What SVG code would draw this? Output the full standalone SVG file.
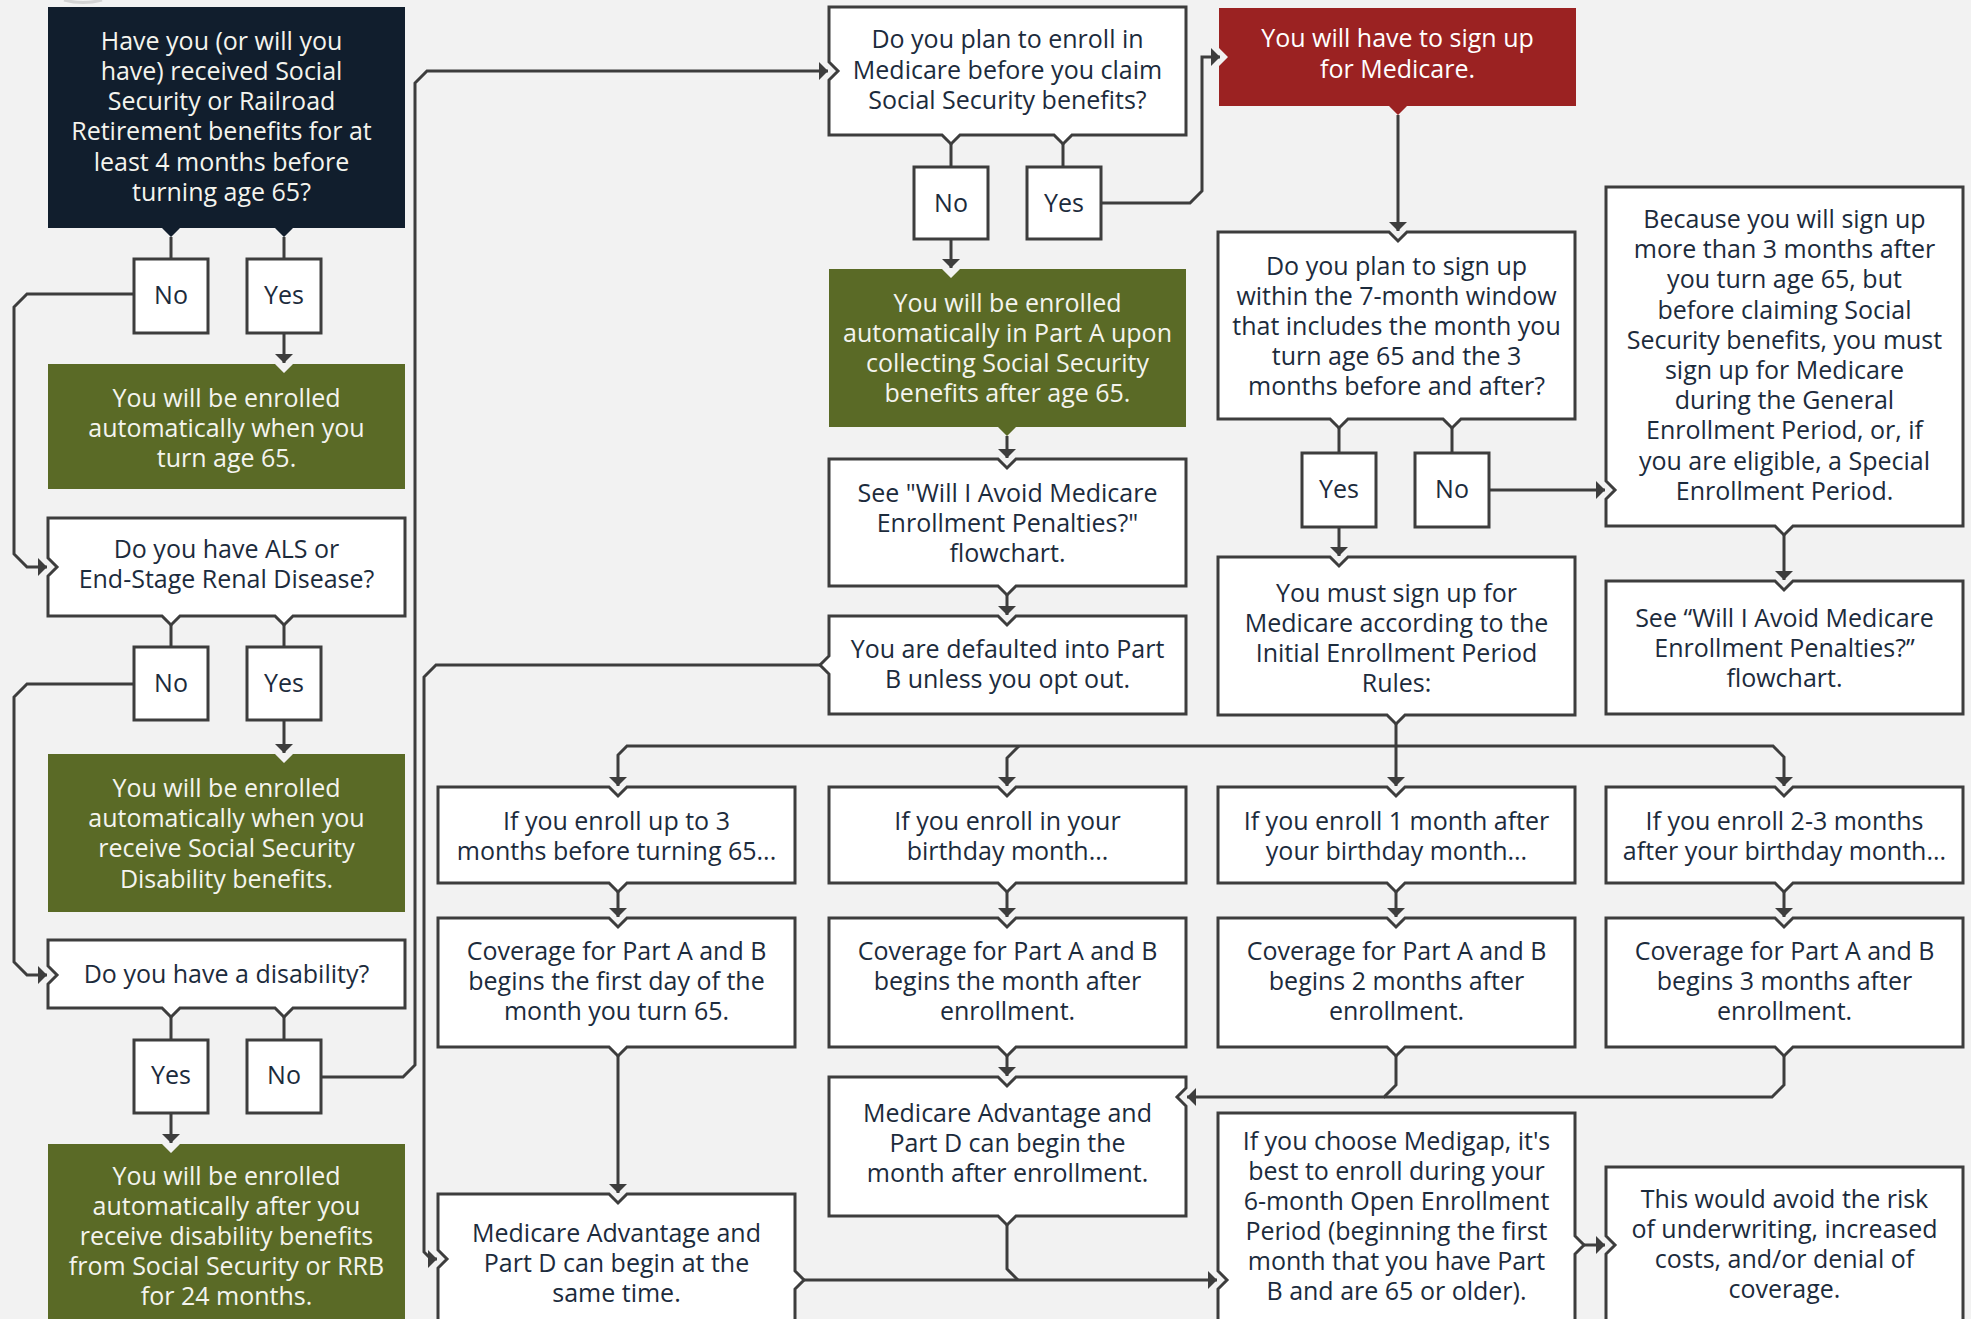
<svg xmlns="http://www.w3.org/2000/svg" width="1971" height="1319" viewBox="0 0 1971 1319">
<defs>
<marker id="ah" markerUnits="userSpaceOnUse" markerWidth="10" markerHeight="20" refX="9" refY="9" orient="auto" viewBox="0 0 10 18"><path d="M0,0 L9,9 L0,18 z" fill="#3d3d3d"/></marker>
</defs>
<style>
.bg{fill:#f2f2f2}
.w{fill:#fff;stroke:#3d3d3d;stroke-width:3}
.g{fill:#5a6a26}
.n{fill:#111e2d}
.r{fill:#9b2222}
text{font-family:"Open Sans","Noto Sans","Liberation Sans",sans-serif;font-size:25px;text-anchor:middle;fill:#1c2b3c}
.lt{fill:#f4f4ee}
.c path{fill:none;stroke:#3d3d3d;stroke-width:3}
.c path.a{marker-end:url(#ah)}
</style>
<rect class="bg" x="0" y="0" width="1971" height="1319"/>
<path d="M64 0Q83 5 102 0" fill="none" stroke="#d4d4d4" stroke-width="3"/>

<g class="c" id="connectors">
<path d="M171 237V259M284 237V259"/>
<path class="a" d="M284 333V363"/>
<path class="a" d="M134 294H27L14 307V554L27 567H47"/>
<path d="M171 625V647M284 625V647"/>
<path class="a" d="M284 720V753"/>
<path class="a" d="M134 684H27L14 697V962L27 975H47"/>
<path d="M171 1017V1040M284 1017V1040"/>
<path class="a" d="M171 1113V1143"/>
<path class="a" d="M321 1077H403L415 1065V83L427 71H828"/>
<path d="M951 144V167M1063 144V167"/>
<path class="a" d="M951 239V268"/>
<path class="a" d="M1101 203H1190L1202 191V57H1220"/>
<path class="a" d="M1007 436V458"/>
<path class="a" d="M1007 595V615"/>
<path class="a" d="M820 665H436L424 677V1252L431 1259H437"/>
<path class="a" d="M1398 115V231"/>
<path d="M1339 428V453M1452 428V453"/>
<path class="a" d="M1339 527V556"/>
<path class="a" d="M1489 490H1605"/>
<path class="a" d="M1784 535V580"/>
<path class="a" d="M1396 724V786"/>
<path class="a" d="M1396 746H627L618 755V786"/>
<path class="a" d="M1396 746H1773L1784 757V786"/>
<path class="a" d="M1019 746L1007 758V786"/>
<path class="a" d="M618 892V917"/>
<path class="a" d="M1007 892V917"/>
<path class="a" d="M1396 892V917"/>
<path class="a" d="M1784 892V917"/>
<path class="a" d="M618 1056V1193"/>
<path class="a" d="M1007 1056V1076"/>
<path class="a" d="M1396 1056V1085L1384 1097H1187"/>
<path d="M1784 1056V1085L1772 1097H1384"/>
<path class="a" d="M804 1280H1217"/>
<path d="M1007 1225V1269L1018 1280"/>
<path class="a" d="M1584 1245H1605"/>
</g>

<g id="q1">
<path class="n" d="M48 7H405V228H293L284 237L275 228H180L171 237L162 228H48Z"/>
<text class="lt"><tspan x="221.5" y="49.5">Have you (or will you</tspan><tspan x="221.5" y="79.8">have) received Social</tspan><tspan x="221.5" y="110.1">Security or Railroad</tspan><tspan x="221.5" y="140.4">Retirement benefits for at</tspan><tspan x="221.5" y="170.7">least 4 months before</tspan><tspan x="221.5" y="201">turning age 65?</tspan></text>
</g>
<g id="q1-no"><rect class="w" x="134" y="259" width="74" height="74"/><text x="171" y="304">No</text></g>
<g id="q1-yes"><rect class="w" x="247" y="259" width="74" height="74"/><text x="284" y="304">Yes</text></g>
<g id="auto65">
<path class="g" d="M48 364H275L284 373L293 364H405V489H48Z"/>
<text class="lt"><tspan x="226.5" y="407">You will be enrolled</tspan><tspan x="226.5" y="437">automatically when you</tspan><tspan x="226.5" y="467">turn age 65.</tspan></text>
</g>
<g id="als">
<path class="w" d="M48 518H405V616H293L284 625L275 616H180L171 625L162 616H48V576L57 567L48 558Z"/>
<text><tspan x="226.5" y="558">Do you have ALS or</tspan><tspan x="226.5" y="588">End-Stage Renal Disease?</tspan></text>
</g>
<g id="als-no"><rect class="w" x="134" y="647" width="74" height="73"/><text x="171" y="692">No</text></g>
<g id="als-yes"><rect class="w" x="247" y="647" width="74" height="73"/><text x="284" y="692">Yes</text></g>
<g id="autossdi">
<path class="g" d="M48 754H275L284 763L293 754H405V912H48Z"/>
<text class="lt"><tspan x="226.5" y="797">You will be enrolled</tspan><tspan x="226.5" y="827">automatically when you</tspan><tspan x="226.5" y="857">receive Social Security</tspan><tspan x="226.5" y="888">Disability benefits.</tspan></text>
</g>
<g id="disab">
<path class="w" d="M48 940H405V1008H293L284 1017L275 1008H180L171 1017L162 1008H48V984L57 975L48 966Z"/>
<text x="226.5" y="983">Do you have a disability?</text>
</g>
<g id="disab-yes"><rect class="w" x="134" y="1040" width="74" height="73"/><text x="171" y="1084">Yes</text></g>
<g id="disab-no"><rect class="w" x="247" y="1040" width="74" height="73"/><text x="284" y="1084">No</text></g>
<g id="auto24">
<path class="g" d="M48 1144H162L171 1153L180 1144H405V1330H48Z"/>
<text class="lt"><tspan x="226.5" y="1185">You will be enrolled</tspan><tspan x="226.5" y="1215">automatically after you</tspan><tspan x="226.5" y="1245">receive disability benefits</tspan><tspan x="226.5" y="1275">from Social Security or RRB</tspan><tspan x="226.5" y="1305">for 24 months.</tspan></text>
</g>

<g id="plan">
<path class="w" d="M829 7H1186V135H1072L1063 144L1054 135H960L951 144L942 135H829V80L838 71L829 62Z"/>
<text><tspan x="1007.5" y="48">Do you plan to enroll in</tspan><tspan x="1007.5" y="78.5">Medicare before you claim</tspan><tspan x="1007.5" y="109">Social Security benefits?</tspan></text>
</g>
<g id="plan-no"><rect class="w" x="914" y="167" width="74" height="72"/><text x="951" y="212">No</text></g>
<g id="plan-yes"><rect class="w" x="1027" y="167" width="74" height="72"/><text x="1064" y="212">Yes</text></g>
<g id="autoA">
<path class="g" d="M829 269H942L951 278L960 269H1186V427H1016L1007 436L998 427H829Z"/>
<text class="lt"><tspan x="1007.5" y="312">You will be enrolled</tspan><tspan x="1007.5" y="342">automatically in Part A upon</tspan><tspan x="1007.5" y="372">collecting Social Security</tspan><tspan x="1007.5" y="402">benefits after age 65.</tspan></text>
</g>
<g id="see1">
<path class="w" d="M829 459H998L1007 468L1016 459H1186V586H1016L1007 595L998 586H829Z"/>
<text><tspan x="1007.5" y="502">See "Will I Avoid Medicare</tspan><tspan x="1007.5" y="532">Enrollment Penalties?"</tspan><tspan x="1007.5" y="562">flowchart.</tspan></text>
</g>
<g id="defaultB">
<path class="w" d="M829 616H998L1007 625L1016 616H1186V714H829V674L820 665L829 656Z"/>
<text><tspan x="1007.5" y="658">You are defaulted into Part</tspan><tspan x="1007.5" y="688">B unless you opt out.</tspan></text>
</g>

<g id="signup">
<path class="r" d="M1219 8H1576V106H1407L1398 115L1389 106H1219V66L1228 57L1219 48Z"/>
<text style="fill:#fff"><tspan x="1397.5" y="47">You will have to sign up</tspan><tspan x="1397.5" y="78">for Medicare.</tspan></text>
</g>
<g id="window">
<path class="w" d="M1218 232H1389L1398 241L1407 232H1575V419H1461L1452 428L1443 419H1348L1339 428L1330 419H1218Z"/>
<text><tspan x="1396.5" y="275">Do you plan to sign up</tspan><tspan x="1396.5" y="305">within the 7-month window</tspan><tspan x="1396.5" y="335">that includes the month you</tspan><tspan x="1396.5" y="365">turn age 65 and the 3</tspan><tspan x="1396.5" y="395">months before and after?</tspan></text>
</g>
<g id="window-yes"><rect class="w" x="1302" y="453" width="74" height="74"/><text x="1339" y="498">Yes</text></g>
<g id="window-no"><rect class="w" x="1415" y="453" width="74" height="74"/><text x="1452" y="498">No</text></g>
<g id="iep">
<path class="w" d="M1218 557H1330L1339 566L1348 557H1575V715H1405L1396 724L1387 715H1218Z"/>
<text><tspan x="1396.5" y="602">You must sign up for</tspan><tspan x="1396.5" y="632">Medicare according to the</tspan><tspan x="1396.5" y="662">Initial Enrollment Period</tspan><tspan x="1396.5" y="692">Rules:</tspan></text>
</g>
<g id="gep">
<path class="w" d="M1606 187H1963V526H1793L1784 535L1775 526H1606V499L1615 490L1606 481Z"/>
<text><tspan x="1784.5" y="228">Because you will sign up</tspan><tspan x="1784.5" y="258.2">more than 3 months after</tspan><tspan x="1784.5" y="288.4">you turn age 65, but</tspan><tspan x="1784.5" y="318.6">before claiming Social</tspan><tspan x="1784.5" y="348.8">Security benefits, you must</tspan><tspan x="1784.5" y="379">sign up for Medicare</tspan><tspan x="1784.5" y="409.2">during the General</tspan><tspan x="1784.5" y="439.4">Enrollment Period, or, if</tspan><tspan x="1784.5" y="469.6">you are eligible, a Special</tspan><tspan x="1784.5" y="499.8">Enrollment Period.</tspan></text>
</g>
<g id="see2">
<path class="w" d="M1606 581H1775L1784 590L1793 581H1963V714H1606Z"/>
<text><tspan x="1784.5" y="627">See “Will I Avoid Medicare</tspan><tspan x="1784.5" y="657">Enrollment Penalties?”</tspan><tspan x="1784.5" y="687">flowchart.</tspan></text>
</g>

<g id="if1">
<path class="w" d="M438 787H609L618 796L627 787H795V883H627L618 892L609 883H438Z"/>
<text><tspan x="616.5" y="830">If you enroll up to 3</tspan><tspan x="616.5" y="860">months before turning 65...</tspan></text>
</g>
<g id="if2">
<path class="w" d="M829 787H998L1007 796L1016 787H1186V883H1016L1007 892L998 883H829Z"/>
<text><tspan x="1007.5" y="830">If you enroll in your</tspan><tspan x="1007.5" y="860">birthday month...</tspan></text>
</g>
<g id="if3">
<path class="w" d="M1218 787H1387L1396 796L1405 787H1575V883H1405L1396 892L1387 883H1218Z"/>
<text><tspan x="1396.5" y="830">If you enroll 1 month after</tspan><tspan x="1396.5" y="860">your birthday month...</tspan></text>
</g>
<g id="if4">
<path class="w" d="M1606 787H1775L1784 796L1793 787H1963V883H1793L1784 892L1775 883H1606Z"/>
<text><tspan x="1784.5" y="830">If you enroll 2-3 months</tspan><tspan x="1784.5" y="860">after your birthday month...</tspan></text>
</g>
<g id="cov1">
<path class="w" d="M438 918H609L618 927L627 918H795V1047H627L618 1056L609 1047H438Z"/>
<text><tspan x="616.5" y="960">Coverage for Part A and B</tspan><tspan x="616.5" y="990">begins the first day of the</tspan><tspan x="616.5" y="1020">month you turn 65.</tspan></text>
</g>
<g id="cov2">
<path class="w" d="M829 918H998L1007 927L1016 918H1186V1047H1016L1007 1056L998 1047H829Z"/>
<text><tspan x="1007.5" y="960">Coverage for Part A and B</tspan><tspan x="1007.5" y="990">begins the month after</tspan><tspan x="1007.5" y="1020">enrollment.</tspan></text>
</g>
<g id="cov3">
<path class="w" d="M1218 918H1387L1396 927L1405 918H1575V1047H1405L1396 1056L1387 1047H1218Z"/>
<text><tspan x="1396.5" y="960">Coverage for Part A and B</tspan><tspan x="1396.5" y="990">begins 2 months after</tspan><tspan x="1396.5" y="1020">enrollment.</tspan></text>
</g>
<g id="cov4">
<path class="w" d="M1606 918H1775L1784 927L1793 918H1963V1047H1793L1784 1056L1775 1047H1606Z"/>
<text><tspan x="1784.5" y="960">Coverage for Part A and B</tspan><tspan x="1784.5" y="990">begins 3 months after</tspan><tspan x="1784.5" y="1020">enrollment.</tspan></text>
</g>
<g id="ma1">
<path class="w" d="M438 1194H609L618 1203L627 1194H795V1271L804 1280L795 1289V1330H438V1268L447 1259L438 1250Z"/>
<text><tspan x="616.5" y="1242">Medicare Advantage and</tspan><tspan x="616.5" y="1272">Part D can begin at the</tspan><tspan x="616.5" y="1302">same time.</tspan></text>
</g>
<g id="ma2">
<path class="w" d="M829 1077H998L1007 1086L1016 1077H1186V1088L1177 1097L1186 1106V1216H1016L1007 1225L998 1216H829Z"/>
<text><tspan x="1007.5" y="1122">Medicare Advantage and</tspan><tspan x="1007.5" y="1152">Part D can begin the</tspan><tspan x="1007.5" y="1182">month after enrollment.</tspan></text>
</g>
<g id="medigap">
<path class="w" d="M1218 1113H1575V1236L1584 1245L1575 1254V1330H1218V1289L1227 1280L1218 1271Z"/>
<text><tspan x="1396.5" y="1150">If you choose Medigap, it's</tspan><tspan x="1396.5" y="1180">best to enroll during your</tspan><tspan x="1396.5" y="1210">6-month Open Enrollment</tspan><tspan x="1396.5" y="1240">Period (beginning the first</tspan><tspan x="1396.5" y="1270">month that you have Part</tspan><tspan x="1396.5" y="1300">B and are 65 or older).</tspan></text>
</g>
<g id="avoid">
<path class="w" d="M1606 1167H1963V1330H1606V1254L1615 1245L1606 1236Z"/>
<text><tspan x="1784.5" y="1208">This would avoid the risk</tspan><tspan x="1784.5" y="1238">of underwriting, increased</tspan><tspan x="1784.5" y="1268">costs, and/or denial of</tspan><tspan x="1784.5" y="1298">coverage.</tspan></text>
</g>
</svg>
